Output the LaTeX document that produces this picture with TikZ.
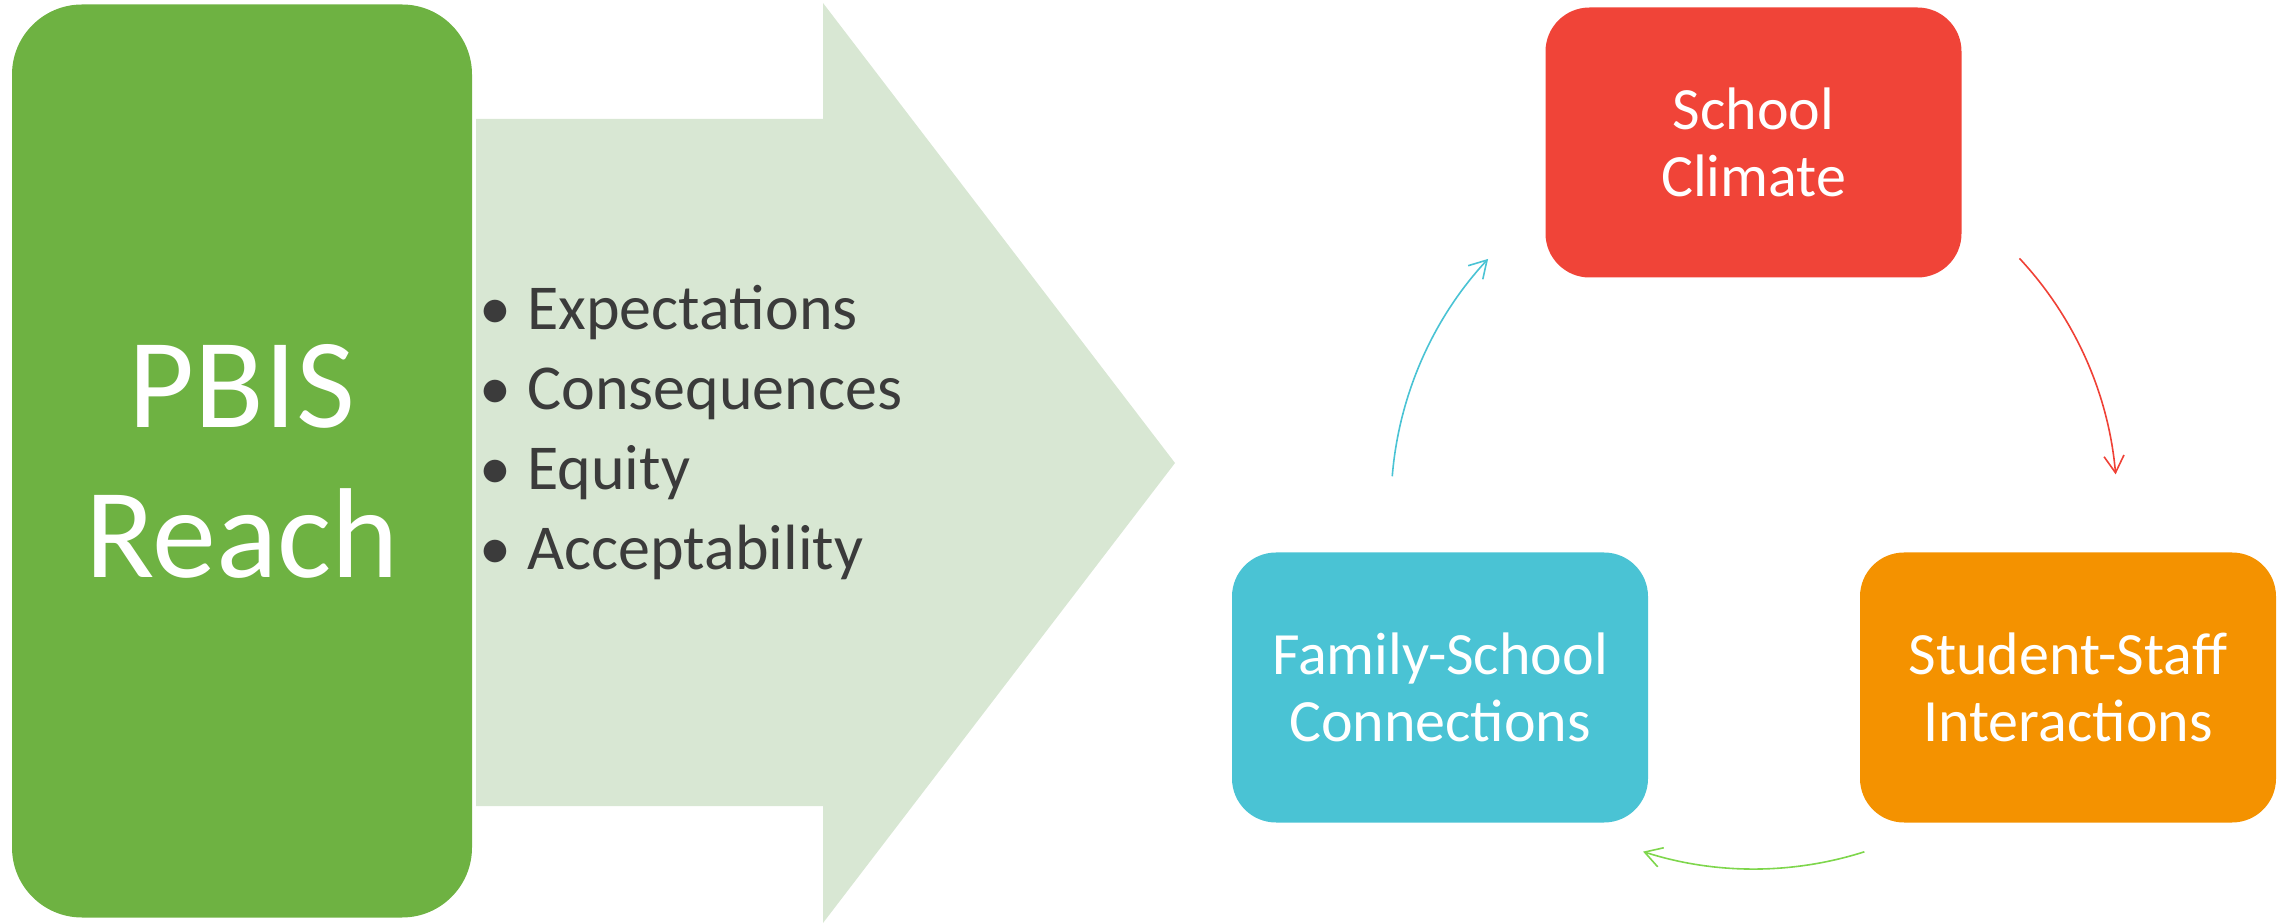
\documentclass[tikz,border=0pt]{standalone}
\usepackage{fontspec}
\setmainfont{Carlito}
\usetikzlibrary{arrows.meta}

\begin{document}
\begin{tikzpicture}[x=0.5pt,y=0.5pt,yscale=-1,xscale=1,
  box/.style={rounded corners=22pt,minimum width=208pt,minimum height=135pt,inner sep=0pt,text=white,align=center,font=\fontsize{30}{33.5}\selectfont},
  cyc/.style={line width=0.8pt,-{Straight Barb[length=8.5pt,width=10pt]}},
  point/.style={anchor=base west,inner sep=0pt,text={rgb, 255:red, 59; green, 59; blue, 59 },font=\fontsize{32}{40}\selectfont}
]
\useasboundingbox (0,0) rectangle (2282,924);

%Shape: Polygon (big arrow)
\fill [color={rgb, 255:red, 216; green, 231; blue, 211 }] (476,119) -- (823,119) -- (823,3) -- (1175,463) -- (823,923) -- (823,806) -- (476,806) -- cycle ;
%Rounded Rect
\node [box,minimum width=230pt,minimum height=456.5pt,rounded corners=35pt,fill={rgb, 255:red, 110; green, 178; blue, 66 },font=\fontsize{64}{75}\selectfont] (pbis) at (242,461) {PBIS\\Reach};
%Text list
\foreach \t [count=\i from 0] in {Expectations,Consequences,Equity,Acceptability}
  \node [point] (pt\i) at (479,330+80*\i) {\makebox[24pt][l]{•}\t};

%Rounded Rect
\node [box,fill={rgb, 255:red, 240; green, 68; blue, 56 }] (clim) at (1753.5,142.5) {School\\Climate};
%Rounded Rect
\node [box,fill={rgb, 255:red, 244; green, 146; blue, 0 }] (staff) at (2068,687.5) {Student-Staff\\Interactions};
%Rounded Rect
\node [box,fill={rgb, 255:red, 74; green, 195; blue, 212 }] (fam) at (1440,687.5) {Family-School\\Connections};

%Curve Lines
\coordinate (ctr) at (1754,506);
\coordinate (ra) at ([shift={(-43:363)}]ctr);
\coordinate (ga) at ([shift={(72.3:363)}]ctr);
\coordinate (ba) at ([shift={(184.7:363)}]ctr);
\draw [cyc,color={rgb, 255:red, 239; green, 65; blue, 54 }] (ra) arc[start angle=-43,end angle=-5,radius=363] ;
\draw [cyc,color={rgb, 255:red, 126; green, 214; blue, 76 }] (ga) arc[start angle=72.3,end angle=107.8,radius=363] ;
\draw [cyc,color={rgb, 255:red, 74; green, 195; blue, 212 }] (ba) arc[start angle=184.7,end angle=222.9,radius=363] ;
\end{tikzpicture}
\end{document}
